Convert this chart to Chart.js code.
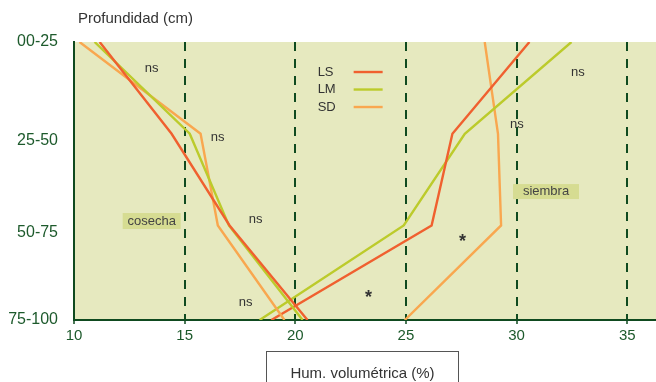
<!DOCTYPE html>
<html>
<head>
<meta charset="utf-8">
<script src="https://cdn.jsdelivr.net/npm/chart.js@4"></script>
<style>
  html, body { margin: 0; padding: 0; background: #ffffff; }
  #wrap { width: 656px; height: 382px; position: relative; }
</style>
</head>
<body>
<div id="wrap"><canvas id="c" width="656" height="382"></canvas></div>
<script>
// Depth levels (position on the depth axis, 0 = top of profile, 100 = bottom)
const depthLevels = [0, 33, 66, 100];

// Depth-axis tick labels and where they sit on that axis
const depthTickLabels = ['00-25', '25-50', '50-75', '75-100'];
const depthTickPos = [0, 35.5, 68.5, 100];

// Humidity axis ticks (%)
const humTicks = [10, 15, 20, 25, 30, 35];

// Volumetric humidity (%) at harvest (cosecha)
const lsCosecha = [11.16, 14.41, 17.03, 20.55];
const lmCosecha = [10.93, 15.23, 17.0, 20.33];
const sdCosecha = [10.25, 15.72, 16.5, 19.51];

// Volumetric humidity (%) at sowing (siembra)
const lsSiembra = [30.58, 27.1, 26.16, 18.92];
const lmSiembra = [32.48, 27.66, 24.9, 18.39];
const sdSiembra = [28.56, 29.16, 29.3, 24.95];

const seriesNames = ['LS', 'LM', 'SD'];
const seriesColors = ['#f0602f', '#bccb2b', '#f9a74f'];

const darkGreen = '#0f4a1f';
const tickGreen = '#1d5a2c';
const textGray = '#333333';
const plotBg = '#e6e9bf';
const tagBg = '#d6dc92';
const FONT = '"Liberation Sans", Arial, Helvetica, sans-serif';

function toPoints(values) {
  return values.map((v, i) => ({ x: v, y: depthLevels[i] }));
}

const profiles = [
  [lsCosecha, 0], [lmCosecha, 1], [sdCosecha, 2],
  [lsSiembra, 0], [lmSiembra, 1], [sdSiembra, 2]
];

const datasets = profiles.map(([vals, s]) => ({
  label: seriesNames[s],
  data: toPoints(vals),
  borderColor: seriesColors[s],
  borderWidth: 2.4,
  pointRadius: 0,
  tension: 0,
  fill: false
}));

// Significance marks and period tags, placed in axis units
const marks = [
  { text: 'ns', x: 13.51, y: 9.4 },
  { text: 'ns', x: 16.49, y: 34.5 },
  { text: 'ns', x: 18.21, y: 63.7 },
  { text: 'ns', x: 17.76, y: 93.5 },
  { text: 'ns', x: 32.77, y: 10.8 },
  { text: 'ns', x: 30.01, y: 29.5 },
  { text: '*', x: 23.31, y: 90.6, star: true },
  { text: '*', x: 27.56, y: 70.5, star: true }
];
const tags = [
  { text: 'cosecha', x: 13.51, y: 64.4, w: 58, h: 16 },
  { text: 'siembra', x: 31.33, y: 53.8, w: 66, h: 15 }
];
const legendAnchor = { x: 21.01, y: 10.8 };

const decorations = {
  id: 'decorations',
  beforeDraw(chart) {
    const { ctx, chartArea: a } = chart;
    ctx.save();
    ctx.fillStyle = plotBg;
    ctx.fillRect(a.left, a.top, a.right - a.left, a.bottom - a.top);
    ctx.restore();
  },
  afterDatasetsDraw(chart) {
    const { ctx } = chart;
    const xs = chart.scales.x, ys = chart.scales.y;
    ctx.save();

    // period tags
    ctx.font = '13px ' + FONT;
    ctx.textAlign = 'center';
    ctx.textBaseline = 'middle';
    tags.forEach(t => {
      const px = xs.getPixelForValue(t.x), py = ys.getPixelForValue(t.y);
      ctx.fillStyle = tagBg;
      ctx.fillRect(px - t.w / 2, py - t.h / 2, t.w, t.h);
      ctx.fillStyle = '#444444';
      ctx.fillText(t.text, px, py);
    });

    // significance marks
    marks.forEach(m => {
      const px = xs.getPixelForValue(m.x), py = ys.getPixelForValue(m.y);
      ctx.fillStyle = textGray;
      if (m.star) {
        ctx.font = 'bold 18px ' + FONT;
        ctx.fillText(m.text, px, py + 4);
      } else {
        ctx.font = '13px ' + FONT;
        ctx.fillText(m.text, px, py);
      }
    });

    // legend: name then line sample
    const lx = xs.getPixelForValue(legendAnchor.x);
    const ly = ys.getPixelForValue(legendAnchor.y);
    ctx.font = '13px ' + FONT;
    ctx.textAlign = 'left';
    seriesNames.forEach((name, i) => {
      const y = ly + i * 17.5;
      ctx.fillStyle = textGray;
      ctx.fillText(name, lx, y);
      ctx.strokeStyle = seriesColors[i];
      ctx.lineWidth = 2.4;
      ctx.beginPath();
      ctx.moveTo(lx + 36, y);
      ctx.lineTo(lx + 65, y);
      ctx.stroke();
    });
    ctx.restore();
  },
  afterDraw(chart) {
    const { ctx, chartArea: a } = chart;
    ctx.save();
    // depth axis title
    ctx.font = '15px ' + FONT;
    ctx.fillStyle = textGray;
    ctx.textAlign = 'left';
    ctx.textBaseline = 'middle';
    ctx.fillText('Profundidad (cm)', a.left + 4, 19);

    // humidity axis title in a framed box
    const bx = 266.5, bw = 192, by = a.bottom + 31.5;
    ctx.strokeStyle = '#555555';
    ctx.lineWidth = 1;
    ctx.fillStyle = '#ffffff';
    ctx.fillRect(bx, by, bw, 40);
    ctx.strokeRect(bx, by, bw, 40);
    ctx.fillStyle = textGray;
    ctx.textAlign = 'center';
    ctx.fillText('Hum. volumétrica (%)', bx + bw / 2, by + 22);
    ctx.restore();
  }
};

new Chart(document.getElementById('c'), {
  type: 'line',
  data: { datasets },
  options: {
    responsive: false,
    animation: false,
    devicePixelRatio: 1,
    layout: { padding: { top: 42, right: 0, left: 0, bottom: 0 } },
    plugins: { legend: { display: false }, tooltip: { enabled: false } },
    scales: {
      x: {
        type: 'linear',
        min: 10,
        max: 36.3,
        afterBuildTicks: s => { s.ticks = humTicks.map(v => ({ value: v })); },
        afterFit: s => { s.height = 62; },
        grid: {
          color: c => (c.tick && c.tick.value === 10 ? 'rgba(0,0,0,0)' : darkGreen),
          lineWidth: 2,
          tickLength: 4,
          tickColor: darkGreen,
          tickWidth: 1.5
        },
        border: { display: true, color: darkGreen, width: 2, dash: [9, 8] },
        ticks: {
          color: tickGreen,
          font: { size: 15, family: FONT },
          padding: 3,
          maxRotation: 0,
          callback: v => String(v)
        }
      },
      y: {
        type: 'linear',
        reverse: true,
        min: 0,
        max: 100,
        afterBuildTicks: s => { s.ticks = depthTickPos.map(v => ({ value: v })); },
        afterFit: s => { s.width = 74; },
        grid: { display: false, drawTicks: false },
        border: { display: true, color: darkGreen, width: 2 },
        ticks: {
          color: tickGreen,
          font: { size: 16, family: FONT },
          padding: 16,
          callback: (v, i) => depthTickLabels[i]
        }
      }
    }
  },
  plugins: [decorations]
});
</script>
</body>
</html>
